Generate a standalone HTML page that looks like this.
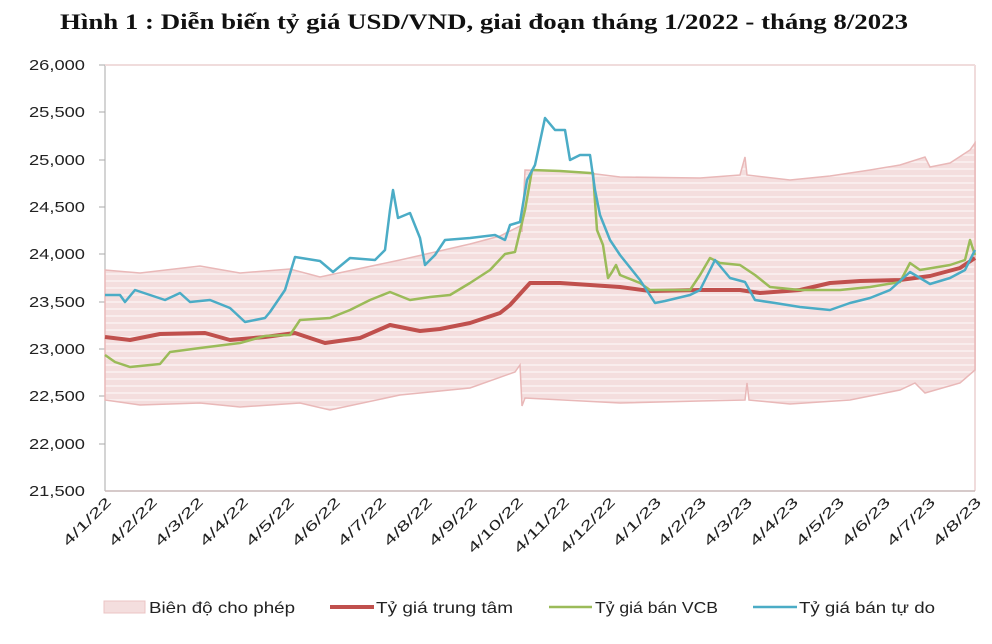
<!DOCTYPE html>
<html><head><meta charset="utf-8"><style>
body{margin:0;background:#fff;width:992px;height:644px;overflow:hidden}
svg{display:block}
</style></head><body>
<svg width="992" height="644" xmlns="http://www.w3.org/2000/svg" font-family="'Liberation Sans', sans-serif">
<defs>
<pattern id="st" width="10" height="7" patternUnits="userSpaceOnUse">
<rect width="10" height="7" fill="#f4dede"/><rect y="0" width="10" height="2" fill="#f9eded"/>
</pattern>
</defs>
<text x="60" y="29" font-family="'Liberation Serif', serif" font-weight="bold" font-size="22" fill="#111" textLength="848" lengthAdjust="spacingAndGlyphs">Hình 1 : Diễn biến tỷ giá USD/VND, giai đoạn tháng 1/2022 - tháng 8/2023</text>
<g font-size="15" fill="#222" text-anchor="end">
<text x="85" y="70" textLength="56" lengthAdjust="spacingAndGlyphs">26,000</text><text x="85" y="117" textLength="56" lengthAdjust="spacingAndGlyphs">25,500</text><text x="85" y="165" textLength="56" lengthAdjust="spacingAndGlyphs">25,000</text><text x="85" y="212" textLength="56" lengthAdjust="spacingAndGlyphs">24,500</text><text x="85" y="259" textLength="56" lengthAdjust="spacingAndGlyphs">24,000</text><text x="85" y="307" textLength="56" lengthAdjust="spacingAndGlyphs">23,500</text><text x="85" y="354" textLength="56" lengthAdjust="spacingAndGlyphs">23,000</text><text x="85" y="401" textLength="56" lengthAdjust="spacingAndGlyphs">22,500</text><text x="85" y="449" textLength="56" lengthAdjust="spacingAndGlyphs">22,000</text><text x="85" y="496" textLength="56" lengthAdjust="spacingAndGlyphs">21,500</text>
</g>
<g stroke="#aaa" stroke-width="1">
<line x1="105" y1="65" x2="105" y2="491"/>
<line x1="99" y1="65" x2="105" y2="65"/><line x1="99" y1="112" x2="105" y2="112"/><line x1="99" y1="160" x2="105" y2="160"/><line x1="99" y1="207" x2="105" y2="207"/><line x1="99" y1="254" x2="105" y2="254"/><line x1="99" y1="302" x2="105" y2="302"/><line x1="99" y1="349" x2="105" y2="349"/><line x1="99" y1="396" x2="105" y2="396"/><line x1="99" y1="444" x2="105" y2="444"/>
</g>
<line x1="105" y1="65" x2="975" y2="65" stroke="#f0dcdc" stroke-width="2"/>
<line x1="975" y1="65" x2="975" y2="491" stroke="#f0dcdc" stroke-width="2"/>
<polygon fill="url(#st)" stroke="#e9b8b8" stroke-width="1.5" points="105,270 140,273 200,266 240,273 290,269 320,277 400,260 470,244 500,236 520,226 522,232 525,170 580,172 620,177 700,178 740,175 745,157 747,175 790,180 830,176 870,170 900,165 925,157 930,167 950,163 970,150 975,143 975,370 960,383 925,393 915,383 900,390 850,400 790,404 749,400 747,383 745,400 700,401 620,403 525,398 522,406 520,365 515,372 470,388 400,395 330,410 300,403 240,407 200,403 140,405 105,400"/>
<line x1="105" y1="491" x2="975" y2="491" stroke="#c8b8b8" stroke-width="1.5"/>
<polyline fill="none" stroke="#c0504d" stroke-width="4" stroke-linejoin="round" points="105,337 130,340 160,334 205,333 230,340 265,337 295,333 325,343 360,338 390,325 420,331 440,329 470,323 500,313 510,305 530,283 560,283 620,287 650,291 700,290 740,290 760,293 800,290 830,283 860,281 900,280 930,276 960,268 975,258"/>
<polyline fill="none" stroke="#9bbb59" stroke-width="2.5" stroke-linejoin="round" points="105,355 115,362 130,367 160,364 170,352 200,348 240,343 265,336 290,335 300,320 330,318 350,310 370,300 390,292 410,300 430,297 450,295 470,283 490,270 505,254 515,252 525,210 532,170 560,171 590,173 593,173 597,230 603,245 608,278 612,272 616,265 620,275 640,283 650,290 690,290 700,275 710,258 720,263 740,265 755,275 770,287 800,290 840,290 870,287 900,282 910,263 920,270 950,265 965,260 970,240 975,255"/>
<polyline fill="none" stroke="#4bacc6" stroke-width="2.5" stroke-linejoin="round" points="105,295 120,295 125,302 135,290 165,300 180,293 190,302 210,300 230,308 245,322 265,318 270,312 285,290 295,257 320,261 333,272 350,258 375,260 385,250 390,210 393,190 398,218 410,213 420,238 425,265 435,255 445,240 470,238 495,235 505,240 510,225 520,222 527,180 535,165 545,118 555,130 565,130 570,160 580,155 590,155 595,190 600,215 610,240 620,255 640,280 655,303 665,301 690,295 700,290 715,260 730,278 745,282 755,300 775,303 800,307 830,310 850,303 870,298 890,290 910,272 930,284 950,278 965,270 975,250"/>
<g font-size="14" fill="#222" text-anchor="end">
<text transform="translate(112,503) rotate(-45)" textLength="62" lengthAdjust="spacingAndGlyphs">4/1/22</text>
<text transform="translate(158,503) rotate(-45)" textLength="62" lengthAdjust="spacingAndGlyphs">4/2/22</text>
<text transform="translate(204,503) rotate(-45)" textLength="62" lengthAdjust="spacingAndGlyphs">4/3/22</text>
<text transform="translate(249,503) rotate(-45)" textLength="62" lengthAdjust="spacingAndGlyphs">4/4/22</text>
<text transform="translate(295,503) rotate(-45)" textLength="62" lengthAdjust="spacingAndGlyphs">4/5/22</text>
<text transform="translate(341,503) rotate(-45)" textLength="62" lengthAdjust="spacingAndGlyphs">4/6/22</text>
<text transform="translate(387,503) rotate(-45)" textLength="62" lengthAdjust="spacingAndGlyphs">4/7/22</text>
<text transform="translate(433,503) rotate(-45)" textLength="62" lengthAdjust="spacingAndGlyphs">4/8/22</text>
<text transform="translate(478,503) rotate(-45)" textLength="62" lengthAdjust="spacingAndGlyphs">4/9/22</text>
<text transform="translate(524,503) rotate(-45)" textLength="72" lengthAdjust="spacingAndGlyphs">4/10/22</text>
<text transform="translate(570,503) rotate(-45)" textLength="72" lengthAdjust="spacingAndGlyphs">4/11/22</text>
<text transform="translate(616,503) rotate(-45)" textLength="72" lengthAdjust="spacingAndGlyphs">4/12/22</text>
<text transform="translate(662,503) rotate(-45)" textLength="62" lengthAdjust="spacingAndGlyphs">4/1/23</text>
<text transform="translate(707,503) rotate(-45)" textLength="62" lengthAdjust="spacingAndGlyphs">4/2/23</text>
<text transform="translate(753,503) rotate(-45)" textLength="62" lengthAdjust="spacingAndGlyphs">4/3/23</text>
<text transform="translate(799,503) rotate(-45)" textLength="62" lengthAdjust="spacingAndGlyphs">4/4/23</text>
<text transform="translate(845,503) rotate(-45)" textLength="62" lengthAdjust="spacingAndGlyphs">4/5/23</text>
<text transform="translate(891,503) rotate(-45)" textLength="62" lengthAdjust="spacingAndGlyphs">4/6/23</text>
<text transform="translate(936,503) rotate(-45)" textLength="62" lengthAdjust="spacingAndGlyphs">4/7/23</text>
<text transform="translate(982,503) rotate(-45)" textLength="62" lengthAdjust="spacingAndGlyphs">4/8/23</text>
</g>
<rect x="104" y="601" width="41" height="12" fill="#f4dede" stroke="#ebc4c4"/>
<line x1="330" y1="607" x2="374" y2="607" stroke="#c0504d" stroke-width="4"/>
<line x1="549" y1="607" x2="592" y2="607" stroke="#9bbb59" stroke-width="2.5"/>
<line x1="753" y1="607" x2="797" y2="607" stroke="#4bacc6" stroke-width="2.5"/>
<g font-size="16" fill="#222">
<text x="149" y="613" textLength="146" lengthAdjust="spacingAndGlyphs">Biên độ cho phép</text>
<text x="376" y="613" textLength="137" lengthAdjust="spacingAndGlyphs">Tỷ giá trung tâm</text>
<text x="595" y="613" textLength="123" lengthAdjust="spacingAndGlyphs">Tỷ giá bán VCB</text>
<text x="799" y="613" textLength="136" lengthAdjust="spacingAndGlyphs">Tỷ giá bán tự do</text>
</g>
</svg>
</body></html>
